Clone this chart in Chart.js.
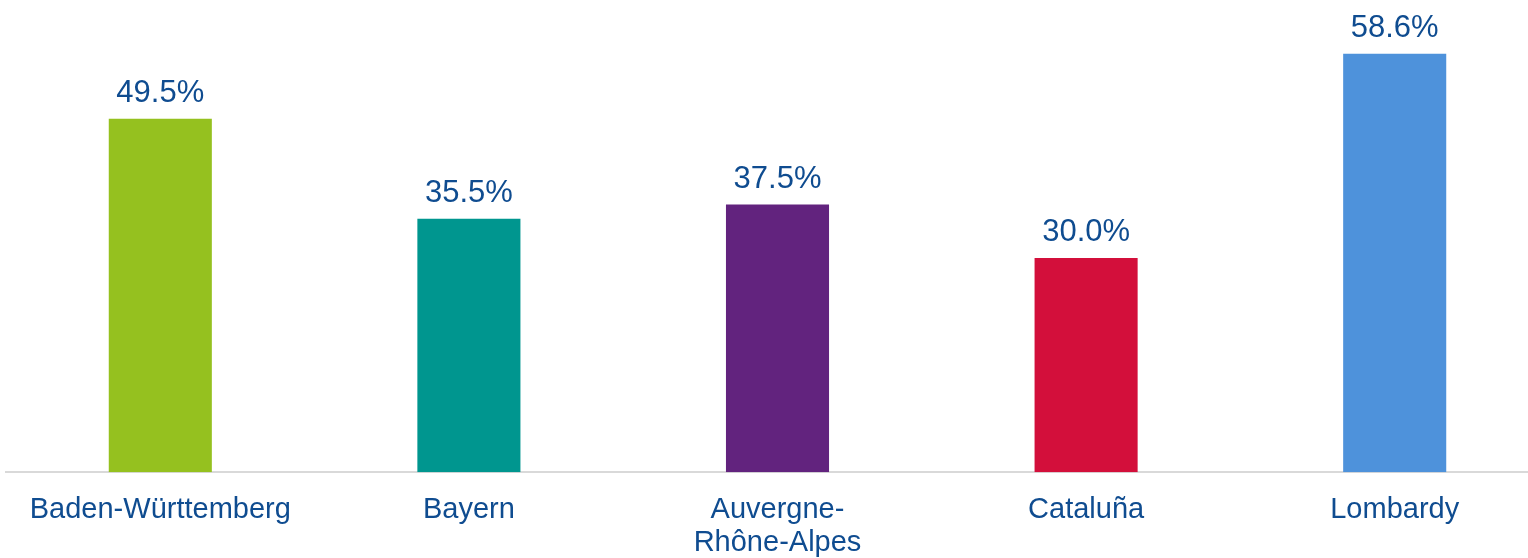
<!DOCTYPE html>
<html>
<head>
<meta charset="utf-8">
<script src="https://cdn.jsdelivr.net/npm/chart.js@4.4.1/dist/chart.umd.min.js"></script>
<style>
html,body{margin:0;padding:0;background:#fff;overflow:hidden;}
#wrap{position:relative;width:1550px;height:558px;}
</style>
</head>
<body>
<div id="wrap"><canvas id="c"></canvas></div>
<script>
const categories = ["Baden-Württemberg", "Bayern", ["Auvergne-", "Rhône-Alpes"], "Cataluña", "Lombardy"];
const values = [49.5, 35.5, 37.5, 30.0, 58.6];
const barColors = ["#95C11F", "#00968F", "#62237E", "#D30F3B", "#4E92DB"];
const textColor = "#0F4C90";

const valueLabels = {
  id: 'valueLabels',
  afterDatasetsDraw(chart) {
    const ctx = chart.ctx;
    const meta = chart.getDatasetMeta(0);
    ctx.save();
    ctx.font = '31px "Liberation Sans", Arial, sans-serif';
    ctx.fillStyle = textColor;
    ctx.textAlign = 'center';
    ctx.textBaseline = 'alphabetic';
    meta.data.forEach((bar, i) => {
      ctx.fillText(values[i].toFixed(1) + '%', bar.x, bar.y - 17);
    });
    ctx.restore();
  }
};

new Chart(document.getElementById('c'), {
  type: 'bar',
  data: {
    labels: categories,
    datasets: [{
      data: values,
      backgroundColor: barColors,
      borderWidth: 0,
      categoryPercentage: 1,
      barPercentage: 0.334
    }]
  },
  options: {
    responsive: true,
    maintainAspectRatio: false,
    animation: false,
    devicePixelRatio: 1,
    layout: { padding: { left: 6, right: 1, top: 1, bottom: -23 } },
    plugins: { legend: { display: false }, tooltip: { enabled: false } },
    scales: {
      x: {
        grid: { display: false, drawTicks: false },
        border: { display: true, color: '#D9D9D9', width: 2 },
        ticks: {
          color: textColor,
          font: { family: '"Liberation Sans", Arial, sans-serif', size: 29, lineHeight: 1.15 },
          padding: 21,
          maxRotation: 0,
          autoSkip: false
        }
      },
      y: {
        display: false,
        min: 0,
        max: 66
      }
    }
  },
  plugins: [valueLabels]
});
</script>
</body>
</html>
